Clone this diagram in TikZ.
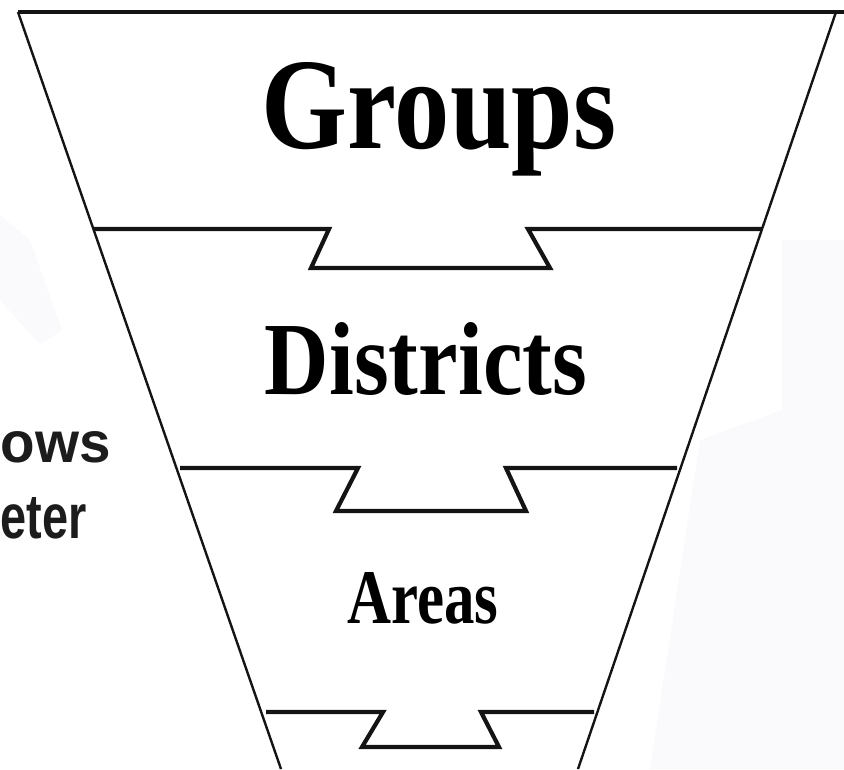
\documentclass[tikz,border=0pt]{standalone}
\usepackage{fontspec}
\setmainfont{Liberation Serif}
\newfontfamily\sidefont{Liberation Sans}
\definecolor{lineclr}{RGB}{20,20,20}
\definecolor{faint}{RGB}{250,250,253}
\definecolor{sidetext}{RGB}{28,28,28}
\begin{document}
\begin{tikzpicture}[x=1pt,y=-1pt,
  edgeline/.style={draw=lineclr,line width=2.4pt,line join=miter},
  divline/.style={draw=lineclr,line width=4.2pt,line join=miter},
  label/.style={inner sep=0pt,anchor=base,font=\bfseries,text=black},
  sidelabel/.style={inner sep=0pt,anchor=base west,font=\sidefont\bfseries,text=sidetext}]
\useasboundingbox (0,0) rectangle (844,769);
\clip (0,0) rectangle (844,769);
% faint background areas
\fill[faint] (782,240) -- (844,240) -- (844,769) -- (650,769) -- (700,440) -- (782,410) -- cycle;
\fill[faint] (0,215) -- (30,240) -- (62,330) -- (40,345) -- (0,300) -- cycle;
% funnel corners
\coordinate (tl) at (18,12);
\coordinate (tr) at (836,12);
\coordinate (bl) at (281,769);
\coordinate (br) at (578,769);
\coordinate (te) at (844,12);
% top line and sides
\draw[divline] (tl) -- (te);
\draw[edgeline] (tl) -- (bl);
\draw[edgeline] (tr) -- (br);
% dividers with notches
\draw[divline] (93,229) -- (329,229) -- (311,268) -- (550,268) -- (528,229) -- (762,229);
\draw[divline] (180,468) -- (358,468) -- (336,511) -- (526,511) -- (506,468) -- (677,468);
\draw[divline] (266,712) -- (383,712) -- (362,747) -- (499,747) -- (481,712) -- (594,712);
% labels
\node[label] (groups) at (439,148) {\resizebox{354pt}{86pt}{Groups}};
\node[label] (districts) at (426,394) {\resizebox{322pt}{72pt}{Districts}};
\node[label] (areas) at (423,623) {\resizebox{151pt}{51pt}{Areas}};
\node[sidelabel] (ows) at (0.5,462) {\resizebox{110pt}{31pt}{ows}};
\node[sidelabel] (eter) at (0.5,538) {\resizebox{86pt}{41pt}{eter}};
\end{tikzpicture}
\end{document}
